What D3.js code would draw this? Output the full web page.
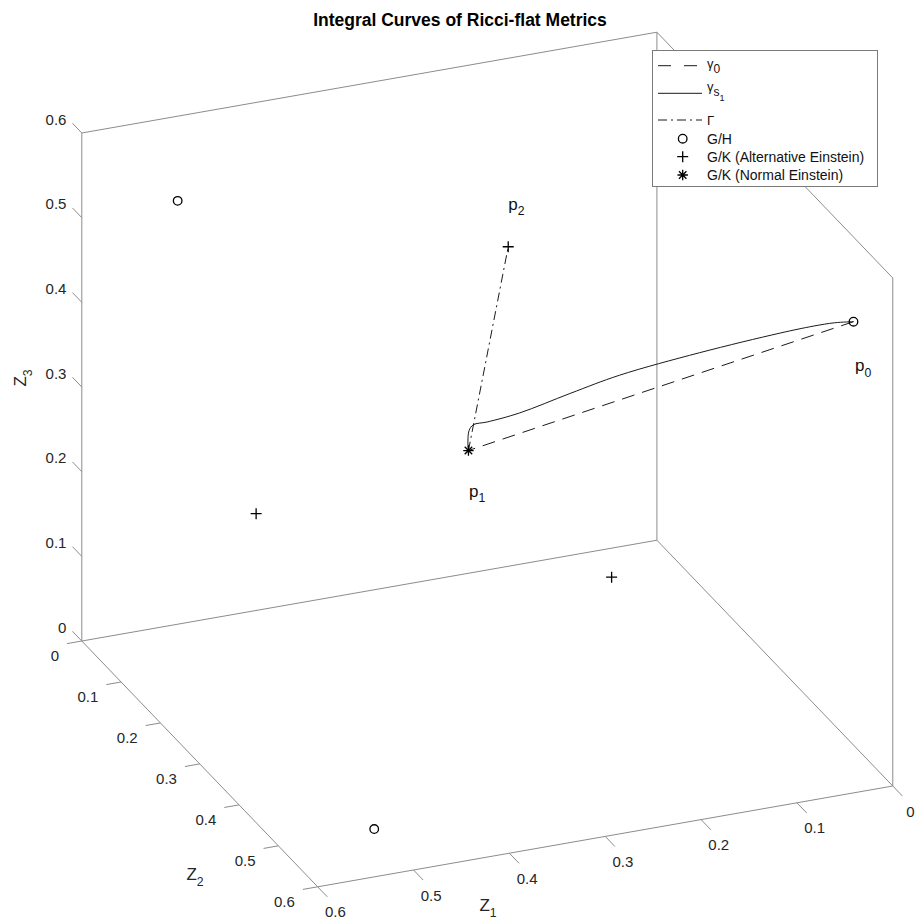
<!DOCTYPE html>
<html><head><meta charset="utf-8">
<script src="https://cdn.jsdelivr.net/npm/d3@7"></script>
<style>
body{margin:0;background:#fff}
svg{display:block}
text{font-family:"Liberation Sans",Arial,Helvetica,sans-serif}
</style>
</head><body>
<svg id="chart" width="919" height="923"></svg>
<script>
// ---- axis ticks ----
const TICKS = [0, 0.1, 0.2, 0.3, 0.4, 0.5, 0.6];
const TICK_LABELS = ["0", "0.1", "0.2", "0.3", "0.4", "0.5", "0.6"];
const DOMAIN = [0, 0.6];

// ---- curves (Z1, Z2, Z3) ----
const gamma0Z1 = [0, 1 / 3];
const gamma0Z2 = [0.5, 1 / 3];
const gamma0Z3 = [0.5, 1 / 3];

const gammaS1Z1 = [0, 0.022, 0.045, 0.078, 0.156, 0.230, 0.271, 0.312, 0.342, 0.356, 0.355, 0.348, 0.339, 1 / 3];
const gammaS1Z2 = [0.5, 0.506, 0.507, 0.504, 0.489, 0.466, 0.440, 0.411, 0.402, 0.401, 0.388, 0.368, 0.346, 1 / 3];
const gammaS1Z3 = [0.5, 0.506, 0.507, 0.504, 0.489, 0.466, 0.440, 0.411, 0.402, 0.401, 0.388, 0.368, 0.346, 1 / 3];

const bigGammaZ1 = [1 / 3, 0.263];
const bigGammaZ2 = [1 / 3, 0.263];
const bigGammaZ3 = [1 / 3, 0.526];

// ---- special points ----
const ghZ1 = [0.5, 0.5, 0];
const ghZ2 = [0, 0.5, 0.5];
const ghZ3 = [0.5, 0, 0.5];

const altZ1 = [0.526, 0.263, 0.263];
const altZ2 = [0.263, 0.526, 0.263];
const altZ3 = [0.263, 0.263, 0.526];

const normZ1 = [1 / 3];
const normZ2 = [1 / 3];
const normZ3 = [1 / 3];

// named points p0, p1, p2
const pointNames = ["0", "1", "2"];
const pointZ1 = [0, 1 / 3, 0.263];
const pointZ2 = [0.5, 1 / 3, 0.263];
const pointZ3 = [0.5, 1 / 3, 0.526];

const legendNames = ["γ0", "γs1", "Γ", "G/H", "G/K (Alternative Einstein)", "G/K (Normal Einstein)"];

// ---- orthographic 3-D view ----
const AZ = 157.7 * Math.PI / 180, EL = 25.3 * Math.PI / 180;
const Z_ASPECT = 0.904;
const K = 1036, CX = 487.3, CY = 459.5;

const n1 = d3.scaleLinear().domain(DOMAIN).range([-0.3, 0.3]);
const n2 = d3.scaleLinear().domain(DOMAIN).range([-0.3, 0.3]);
const n3 = d3.scaleLinear().domain(DOMAIN).range([-0.3 * Z_ASPECT, 0.3 * Z_ASPECT]);
const sx = d3.scaleLinear().domain([-1, 1]).range([CX - K, CX + K]);
const sy = d3.scaleLinear().domain([-1, 1]).range([CY + K, CY - K]);

function project(a, b, c) {
  const x = n1(a), y = n2(b), z = n3(c);
  const X = Math.cos(AZ) * x + Math.sin(AZ) * y;
  const Y = -Math.sin(AZ) * Math.sin(EL) * x + Math.cos(AZ) * Math.sin(EL) * y + Math.cos(EL) * z;
  return [sx(X), sy(Y)];
}
function unitDir(da, db, dc) {
  const p0 = project(0, 0, 0), p1 = project(da, db, dc);
  const dx = p1[0] - p0[0], dy = p1[1] - p0[1], L = Math.hypot(dx, dy);
  return [dx / L, dy / L];
}

const svg = d3.select("#chart");
const AXIS_COLOR = "#8c8c8c";
const TEXT_COLOR = "#262626";

// ---- box (back edges) and axis lines ----
const lo = DOMAIN[0], hi = DOMAIN[1];
const edges = [
  [[hi, lo, lo], [hi, lo, hi]],
  [[lo, lo, lo], [lo, lo, hi]],
  [[lo, hi, lo], [lo, hi, hi]],
  [[hi, lo, hi], [lo, lo, hi]],
  [[lo, lo, hi], [lo, hi, hi]],
  [[hi, lo, lo], [lo, lo, lo]],
  [[lo, lo, lo], [lo, hi, lo]],
  [[hi, lo, lo], [hi, hi, lo]],
  [[hi, hi, lo], [lo, hi, lo]]
];
svg.append("g").selectAll("line").data(edges).join("line")
  .attr("x1", d => project(...d[0])[0]).attr("y1", d => project(...d[0])[1])
  .attr("x2", d => project(...d[1])[0]).attr("y2", d => project(...d[1])[1])
  .attr("stroke", AXIS_COLOR).attr("stroke-width", 1);

// ---- ticks ----
function drawAxis(pointFn, dir, len, labelDx, labelDy, anchor) {
  const g = svg.append("g");
  TICKS.forEach((t, i) => {
    const p = pointFn(t);
    const e = [p[0] + dir[0] * len, p[1] + dir[1] * len];
    g.append("line").attr("x1", p[0]).attr("y1", p[1]).attr("x2", e[0]).attr("y2", e[1])
      .attr("stroke", AXIS_COLOR).attr("stroke-width", 1);
    g.append("text").attr("x", e[0] + labelDx).attr("y", e[1] + labelDy)
      .attr("text-anchor", anchor).attr("dominant-baseline", "central")
      .attr("font-size", 15).attr("fill", TEXT_COLOR).text(TICK_LABELS[i]);
  });
}
// Z3 (vertical) axis
drawAxis(t => project(hi, lo, t), unitDir(0, -1, 0), 13.5, -6, -4, "end");
// Z2 axis
drawAxis(t => project(hi, t, lo), unitDir(1, 0, 0), 15, -8, 12, "end");
// Z1 axis
drawAxis(t => project(t, hi, lo), unitDir(0, 1, 0), 14, 8, 15, "middle");

// ---- axis titles ----
function subText(sel, main, sub, size) {
  sel.append("tspan").text(main);
  sel.append("tspan").attr("font-size", size * 0.72).attr("dy", size * 0.33).text(sub);
}
const z3t = svg.append("text").attr("transform", "translate(26,378) rotate(-90)")
  .attr("text-anchor", "middle").attr("font-size", 17).attr("fill", TEXT_COLOR);
subText(z3t, "Z", "3", 17);
const z2t = svg.append("text").attr("x", 195).attr("y", 880)
  .attr("text-anchor", "middle").attr("font-size", 17).attr("fill", TEXT_COLOR);
subText(z2t, "Z", "2", 17);
const z1t = svg.append("text").attr("x", 488).attr("y", 911)
  .attr("text-anchor", "middle").attr("font-size", 17).attr("fill", TEXT_COLOR);
subText(z1t, "Z", "1", 17);

// ---- title ----
svg.append("text").attr("x", 460).attr("y", 26).attr("text-anchor", "middle")
  .attr("font-size", 17.5).attr("font-weight", "bold").attr("fill", "#000")
  .text("Integral Curves of Ricci-flat Metrics");

// ---- curves ----
const line = d3.line().curve(d3.curveCatmullRom.alpha(0.5));
function pts(a, b, c) { return a.map((v, i) => project(v, b[i], c[i])); }
const CURVE_COLOR = "#1a1a1a";
svg.append("path").attr("d", line(pts(gamma0Z1, gamma0Z2, gamma0Z3)))
  .attr("fill", "none").attr("stroke", CURVE_COLOR).attr("stroke-width", 1)
  .attr("stroke-dasharray", "13,8");
svg.append("path").attr("d", line(pts(gammaS1Z1, gammaS1Z2, gammaS1Z3)))
  .attr("fill", "none").attr("stroke", CURVE_COLOR).attr("stroke-width", 1);
svg.append("path").attr("d", line(pts(bigGammaZ1, bigGammaZ2, bigGammaZ3)))
  .attr("fill", "none").attr("stroke", CURVE_COLOR).attr("stroke-width", 1)
  .attr("stroke-dasharray", "9,4,2,4");

// ---- markers ----
function circleMark(g, x, y) {
  g.append("circle").attr("cx", x).attr("cy", y).attr("r", 4.3)
    .attr("fill", "none").attr("stroke", "#000").attr("stroke-width", 1.3);
}
function plusMark(g, x, y) {
  g.append("path").attr("d", `M${x - 5.5},${y}H${x + 5.5}M${x},${y - 5.5}V${y + 5.5}`)
    .attr("stroke", "#000").attr("stroke-width", 1.3);
}
function starMark(g, x, y) {
  const r = 5.2, q = r * 0.72;
  g.append("path").attr("d",
    `M${x - r},${y}H${x + r}M${x},${y - r}V${y + r}M${x - q},${y - q}L${x + q},${y + q}M${x - q},${y + q}L${x + q},${y - q}`)
    .attr("stroke", "#000").attr("stroke-width", 1.3);
}
const marks = svg.append("g");
pts(ghZ1, ghZ2, ghZ3).forEach(p => circleMark(marks, p[0], p[1]));
pts(altZ1, altZ2, altZ3).forEach(p => plusMark(marks, p[0], p[1]));
pts(normZ1, normZ2, normZ3).forEach(p => starMark(marks, p[0], p[1]));

// ---- point labels p0, p1, p2 ----
const labelOffsets = [[1.5, 49.5], [0.5, 46], [0, -37]];
pts(pointZ1, pointZ2, pointZ3).forEach((p, i) => {
  const t = svg.append("text").attr("x", p[0] + labelOffsets[i][0]).attr("y", p[1] + labelOffsets[i][1])
    .attr("font-size", 17).attr("fill", "#111");
  subText(t, "p", pointNames[i], 17);
});

// ---- legend ----
const lg = svg.append("g");
lg.append("rect").attr("x", 652.5).attr("y", 50.5).attr("width", 225).attr("height", 136)
  .attr("fill", "#fff").attr("stroke", "#7a7a7a").attr("stroke-width", 1);
const rowY = [65.7, 93.3, 120, 138.7, 156.7, 175];
const lx0 = 658, lx1 = 702, tx = 707, mx = 682.7;
const dashes = ["13,13", null, "9,4,2,4"];
dashes.forEach((d, i) => {
  const l = lg.append("line").attr("x1", lx0).attr("x2", lx1).attr("y1", rowY[i]).attr("y2", rowY[i])
    .attr("stroke", CURVE_COLOR).attr("stroke-width", 1);
  if (d) l.attr("stroke-dasharray", d);
});
// greek labels
const serif = '"DejaVu Serif","Liberation Serif",serif';
const g0 = lg.append("text").attr("x", tx).attr("y", rowY[0] + 2).attr("font-family", serif)
  .attr("font-size", 13).attr("fill", "#111");
g0.append("tspan").text("γ");
g0.append("tspan").attr("font-family", '"Liberation Sans",Arial,sans-serif').attr("font-size", 12).attr("dy", 5).text("0");
const g1 = lg.append("text").attr("x", tx).attr("y", rowY[1] - 2).attr("font-family", serif)
  .attr("font-size", 13).attr("fill", "#111");
g1.append("tspan").text("γ");
g1.append("tspan").attr("font-family", '"Liberation Sans",Arial,sans-serif').attr("font-size", 12).attr("dy", 5).text("s");
g1.append("tspan").attr("font-family", '"Liberation Sans",Arial,sans-serif').attr("font-size", 9).attr("dy", 5).text("1");
lg.append("text").attr("x", tx).attr("y", rowY[2]).attr("dominant-baseline", "central")
  .attr("font-family", serif).attr("font-size", 13).attr("fill", "#111").text(legendNames[2]);
[3, 4, 5].forEach(i => {
  lg.append("text").attr("x", tx).attr("y", rowY[i]).attr("dominant-baseline", "central")
    .attr("font-size", 14).attr("fill", "#111").text(legendNames[i]);
});
circleMark(lg, mx, rowY[3]);
plusMark(lg, mx, rowY[4]);
starMark(lg, mx, rowY[5]);
</script>
</body></html>
